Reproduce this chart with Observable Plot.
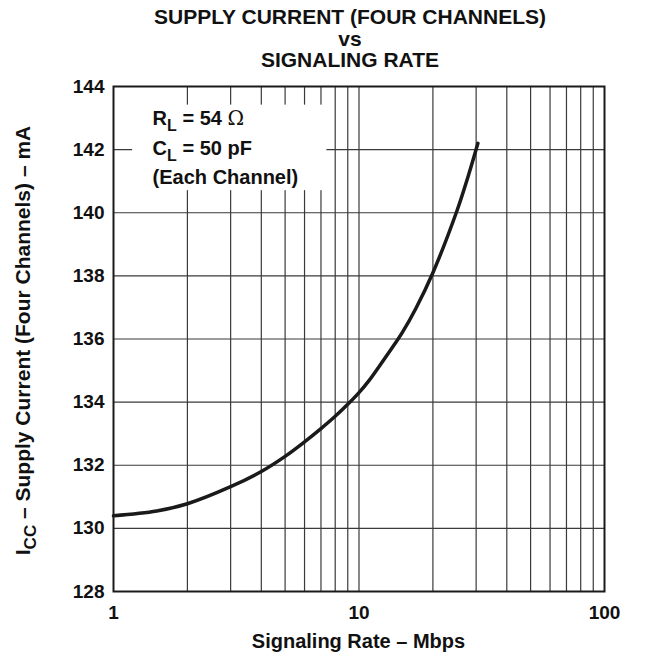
<!DOCTYPE html>
<html><head><meta charset="utf-8">
<script src="https://cdn.jsdelivr.net/npm/d3@7"></script>
<script src="https://cdn.jsdelivr.net/npm/@observablehq/plot@0.6"></script>
<style>
html,body{margin:0;padding:0;background:#fff;overflow:hidden;}
body{font-family:"Liberation Sans",Arial,sans-serif;color:#111;}
#title{position:relative;left:0;width:700px;height:70px;text-align:center;font-weight:bold;font-size:21px;line-height:21.7px;padding-top:6px;box-sizing:border-box;}
#chart svg{display:block;}
</style></head>
<body>
<div id="title"><div>SUPPLY CURRENT (FOUR CHANNELS)</div><div>vs</div><div>SIGNALING RATE</div></div>
<div id="chart"></div>
<script>
// Data
const rate = [1, 1.5, 2, 3, 4, 5, 6, 7, 8, 9, 10, 11, 12, 14, 15, 17, 20, 25, 28, 30.5];
const icc  = [130.4, 130.55, 130.78, 131.32, 131.8, 132.28, 132.74, 133.16, 133.55, 133.93, 134.3, 134.69, 135.1, 135.85, 136.2, 136.95, 138.1, 140.04, 141.22, 142.2];
const xTicks = [1, 10, 100];
const xGrid = [2, 3, 4, 5, 6, 7, 8, 9, 10, 20, 30, 40, 50, 60, 70, 80, 90];
const yTicks = [128, 130, 132, 134, 136, 138, 140, 142, 144];
const noteBox = {x1: 1.197, x2: 7.4, y1: 140.7, y2: 143.41};
const xLabel = "Signaling Rate \u2013 Mbps";

const data = rate.map((r, i) => ({rate: r, icc: icc[i]}));

const plot = Plot.plot({
  width: 652, height: 589,
  marginLeft: 113, marginRight: 48, marginTop: 16, marginBottom: 68,
  style: {fontFamily: "'Liberation Sans', Arial, sans-serif", fontSize: "19px", fontWeight: "bold", color: "#111", background: "#fff"},
  x: {type: "log", domain: [1, 100]},
  y: {domain: [128, 144]},
  marks: [
    Plot.ruleX(xGrid, {stroke: "#3a3a3a", strokeWidth: 1.2}),
    Plot.ruleY(yTicks, {stroke: "#3a3a3a", strokeWidth: 1.2}),
    Plot.rect([noteBox], {x1: "x1", x2: "x2", y1: "y1", y2: "y2", fill: "white"}),
    Plot.line(data, {x: "rate", y: "icc", stroke: "#1a1a1a", strokeWidth: 3.5, curve: "catmull-rom"}),
    Plot.frame({stroke: "#1a1a1a", strokeWidth: 2}),
    Plot.axisX(xTicks, {tickSize: 0, tickPadding: 14, tickFormat: d => String(d), label: null, fontSize: 19}),
    Plot.axisY(yTicks, {tickSize: 0, tickPadding: 9, label: null, fontSize: 19})
  ]
});
document.getElementById("chart").appendChild(plot);

const sx = plot.scale("x"), sy = plot.scale("y");
const X = d3.scaleLog().domain(sx.domain).range(sx.range);
const Y = d3.scaleLinear().domain(sy.domain).range(sy.range);
const svg = d3.select(plot);
const g = svg.append("g").attr("font-family", "'Liberation Sans', Arial, sans-serif").attr("font-weight", "bold").attr("fill", "#111").attr("text-anchor", "start");

// Annotation
const n1 = g.append("text").attr("x", X(1.45)).attr("y", Y(142.77)).attr("font-size", 20);
n1.append("tspan").text("R");
n1.append("tspan").attr("dy", 6).attr("font-size", 16).text("L");
n1.append("tspan").attr("dy", -6).text(" = 54 ");
n1.append("tspan").attr("font-family", "'DejaVu Serif', serif").attr("font-weight", "normal").text("\u03A9");
const n2 = g.append("text").attr("x", X(1.45)).attr("y", Y(141.81)).attr("font-size", 20);
n2.append("tspan").text("C");
n2.append("tspan").attr("dy", 6).attr("font-size", 16).text("L");
n2.append("tspan").attr("dy", -6).text(" = 50 pF");
g.append("text").attr("x", X(1.45)).attr("y", Y(140.9)).attr("font-size", 20).text("(Each Channel)");

// Axis labels
const cx = (sx.range[0] + sx.range[1]) / 2;
g.append("text").attr("x", cx).attr("y", 578).attr("text-anchor", "middle").attr("font-size", 20).text(xLabel);
const cy = (sy.range[0] + sy.range[1]) / 2;
const yl = g.append("text").attr("transform", `translate(30,${cy + 2}) rotate(-90)`).attr("text-anchor", "middle").attr("font-size", 21);
yl.append("tspan").text("I");
yl.append("tspan").attr("dy", 6).attr("font-size", 17).text("CC");
yl.append("tspan").attr("dy", -6).text(" \u2013 Supply Current (Four Channels) \u2013 mA");
</script>
</body></html>
